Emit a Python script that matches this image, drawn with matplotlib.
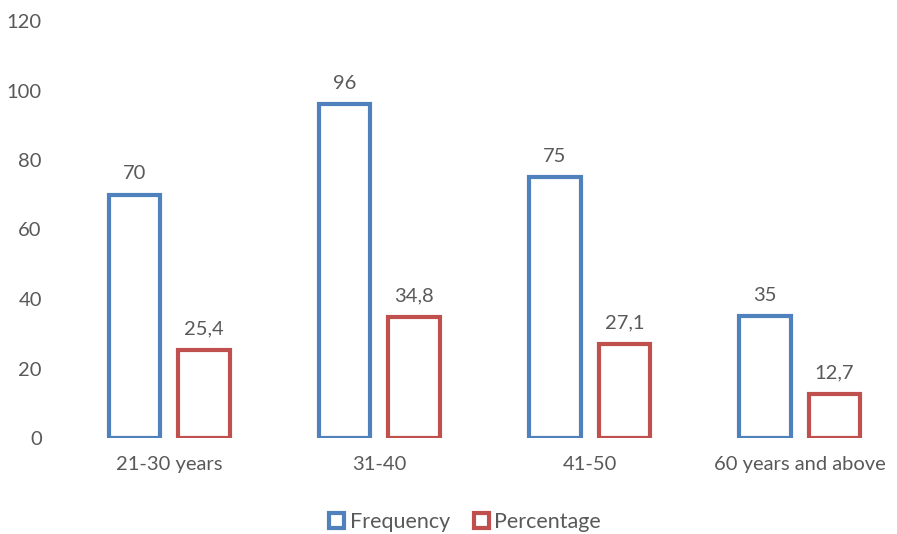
import numpy as np
import matplotlib.pyplot as plt
from matplotlib.patches import Patch

plt.rcParams['font.family'] = ['Lato', 'DejaVu Sans']

# Age groups and their counts / shares
categories = ['21-30 years', '31-40', '41-50', '60 years and above']
frequency = [70, 96, 75, 35]
percentage = [25.4, 34.8, 27.1, 12.7]

blue = '#4F81BD'
red = '#C0504D'
text_grey = '#595959'
fs = 14.5

fig = plt.figure(figsize=(8.97, 5.34), dpi=100)
ax = fig.add_axes([64 / 897, 96 / 534, (897 - 64) / 897, (438 - 21) / 534])

x = np.arange(len(categories))
w = 0.245
off = 0.165
b1 = ax.bar(x - off, frequency, w, facecolor='white', edgecolor=blue, linewidth=3)
b2 = ax.bar(x + off, percentage, w, facecolor='white', edgecolor=red, linewidth=3)

for rects, vals in ((b1, frequency), (b2, percentage)):
    for r, v in zip(rects, vals):
        lab = f'{v:g}'.replace('.', ',')
        ax.annotate(lab, (r.get_x() + r.get_width() / 2, r.get_height()),
                    xytext=(0, 9), textcoords='offset points',
                    ha='center', va='bottom', fontsize=fs, color=text_grey)

ax.set_xlim(-0.5, 3.5 - 8 / 210)
ax.set_ylim(0, 120)
ax.set_yticks(range(0, 121, 20))
ax.set_xticks(x)
ax.set_xticklabels(categories)
ax.tick_params(axis='y', length=0, pad=16, labelsize=fs, labelcolor=text_grey)
ax.tick_params(axis='x', length=0, pad=13, labelsize=fs, labelcolor=text_grey)
for s in ax.spines.values():
    s.set_visible(False)

handles = [Patch(facecolor='white', edgecolor=blue, linewidth=3, label='Frequency'),
           Patch(facecolor='white', edgecolor=red, linewidth=3, label='Percentage')]
fig.legend(handles=handles, loc='center', bbox_to_anchor=(465 / 897, 1 - 522 / 534),
           ncol=2, frameon=False, fontsize=15.5, labelcolor=text_grey,
           handlelength=0.7, handleheight=0.7, handletextpad=0.25, columnspacing=1.1)

fig.savefig('out.png', dpi=100)
